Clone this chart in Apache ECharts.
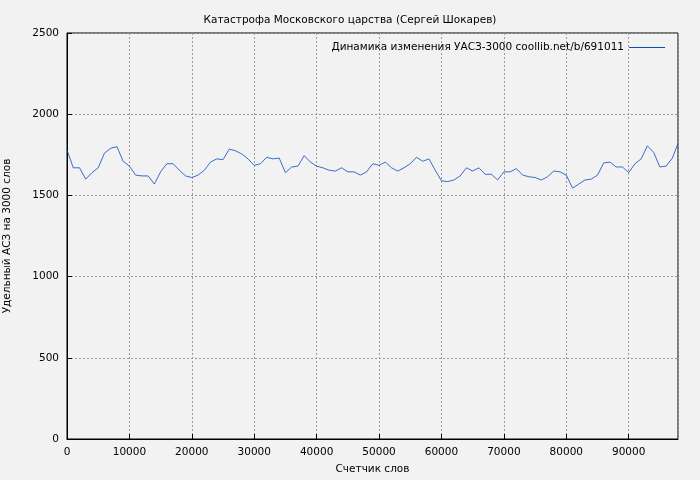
<!DOCTYPE html>
<html>
<head>
<meta charset="utf-8">
<script src="https://cdn.jsdelivr.net/npm/echarts@6/dist/echarts.min.js"></script>
<style>html,body{margin:0;background:#f2f2f2}#main{width:700px;height:480px}</style>
</head>
<body>
<div id="main"></div>
<script>
// word counter (x) and value (y)
var xs = [0,1000,2000,3000,4000,5000,6000,7000,8000,9000,10000,11000,12000,13000,14000,15000,16000,17000,18000,19000,
  20000,21000,22000,23000,24000,25000,26000,27000,28000,29000,30000,31000,32000,33000,34000,35000,36000,37000,38000,39000,
  40000,41000,42000,43000,44000,45000,46000,47000,48000,49000,50000,51000,52000,53000,54000,55000,56000,57000,58000,59000,
  60000,61000,62000,63000,64000,65000,66000,67000,68000,69000,70000,71000,72000,73000,74000,75000,76000,77000,78000,79000,
  80000,81000,82000,83000,84000,85000,86000,87000,88000,89000,90000,91000,92000,93000,94000,95000,96000,97000,97900];
var ys = [1780,1670,1670,1600,1640,1670,1760,1790,1800,1710,1680,1625,1620,1620,1570,1645,1695,1695,1655,1620,
  1610,1625,1655,1705,1725,1720,1785,1775,1755,1725,1685,1695,1735,1725,1730,1640,1675,1680,1745,1705,
  1680,1670,1655,1650,1670,1645,1645,1625,1645,1695,1685,1705,1670,1650,1670,1695,1735,1710,1725,1655,
  1590,1585,1595,1620,1670,1650,1670,1630,1630,1595,1645,1645,1665,1625,1615,1610,1595,1615,1650,1645,
  1625,1545,1570,1595,1600,1625,1700,1705,1675,1675,1640,1695,1725,1805,1765,1675,1680,1730,1820];
var data = xs.map(function (x, i) { return [x, ys[i]]; });

var chart = echarts.init(document.getElementById('main'));
var axisText = { color: '#000', fontSize: 10.5, fontFamily: 'DejaVu Sans' };
var grid = { show: true, lineStyle: { color: '#999', type: [2, 2] } };
var plain = function (v) { return String(v); };
chart.setOption({
    backgroundColor: '#f2f2f2',
    animation: false,
    title: {
        text: 'Катастрофа Московского царства (Сергей Шокарев)',
        left: 'center', top: 10,
        textStyle: { fontSize: 10.5, fontWeight: 'normal', color: '#000', fontFamily: 'DejaVu Sans' }
    },
    legend: {
        right: 30, top: 37, itemWidth: 36, itemHeight: 1, align: 'right', icon: 'rect',
        textStyle: { fontSize: 10.5, color: '#000', fontFamily: 'DejaVu Sans' }
    },
    grid: { left: 67, right: 22, top: 33, bottom: 41, containLabel: false, outerBoundsMode: 'none',
        show: true, borderColor: '#000', borderWidth: 1, backgroundColor: 'transparent' },
    xAxis: {
        type: 'value', min: 0, max: 97900, interval: 10000,
        name: 'Счетчик слов', nameLocation: 'middle', nameGap: 25,
        nameTextStyle: axisText,
        axisLine: { lineStyle: { color: '#000' } },
        axisTick: { inside: true, lineStyle: { color: '#000' } },
        axisLabel: Object.assign({ showMaxLabel: false, formatter: plain }, axisText),
        splitLine: grid
    },
    yAxis: {
        type: 'value', min: 0, max: 2500, interval: 500,
        name: 'Удельный АСЗ на 3000 слов', nameLocation: 'middle', nameGap: 54,
        nameTextStyle: axisText,
        axisLine: { show: true, lineStyle: { color: '#000' } },
        axisTick: { show: true, inside: true, lineStyle: { color: '#000' } },
        axisLabel: Object.assign({ formatter: plain }, axisText),
        splitLine: grid
    },
    series: [{
        name: 'Динамика изменения УАСЗ-3000 coollib.net/b/691011',
        type: 'line', data: data, showSymbol: false,
        lineStyle: { color: '#0a4bbf', width: 0.8 }, itemStyle: { color: '#0a4bbf' }
    }]
});
</script>
</body>
</html>
